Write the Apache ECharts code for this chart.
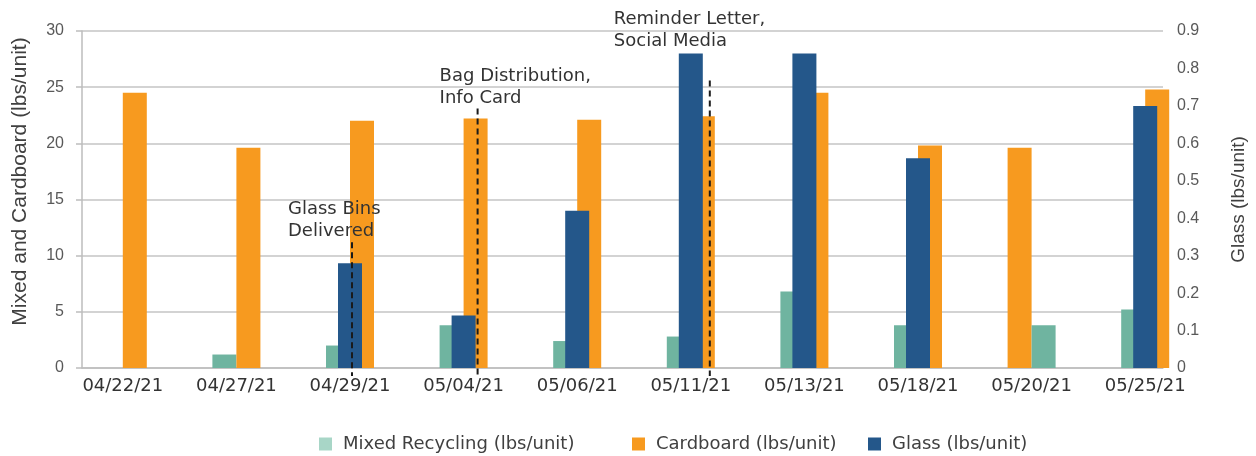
<!DOCTYPE html>
<html>
<head>
<meta charset="utf-8">
<title>Recycling per unit</title>
<script src="https://cdn.jsdelivr.net/npm/echarts@6.0.0/dist/echarts.min.js"></script>
<style>
  html, body { margin: 0; padding: 0; background: #ffffff; }
  #chart { width: 1256px; height: 456px; }
</style>
</head>
<body>
<div id="chart"></div>
<script>
// ---- data -------------------------------------------------------------
const categories = ['04/22/21', '04/27/21', '04/29/21', '05/04/21', '05/06/21',
                    '05/11/21', '05/13/21', '05/18/21', '05/20/21', '05/25/21'];
const mixedRecycling = [null, 1.2, 2.0, 3.8, 2.4, 2.8, 6.8, 3.8, 3.8, 5.2];   // lbs/unit
const cardboard      = [24.5, 19.6, 22.0, 22.2, 22.1, 22.4, 24.5, 19.8, 19.6, 24.8]; // lbs/unit
const glass          = [null, null, 0.28, 0.14, 0.42, 0.84, 0.84, 0.56, null, 0.70]; // lbs/unit
const leftTicks  = [0, 5, 10, 15, 20, 25, 30];
const rightTicks = [0, 0.1, 0.2, 0.3, 0.4, 0.5, 0.6, 0.7, 0.8, 0.9];
// dates whose two primary bars are drawn in swapped slots
const swappedDates = ['05/20/21'];
// outreach events
const eventDates = ['04/29/21', '05/04/21', '05/11/21'];
const eventTexts = ['Glass Bins\nDelivered', 'Bag Distribution,\nInfo Card', 'Reminder Letter,\nSocial Media'];
const eventTops  = [11.2, 23.1, 25.6]; // top of each marker line, left-axis units

// ---- styling ----------------------------------------------------------
const COLORS = { mixed: '#6fb4a0', mixedKey: '#a8d6c7', cardboard: '#f79a1f', glass: '#24578a' };
const NAMES = { mixed: 'Mixed Recycling (lbs/unit)', cardboard: 'Cardboard (lbs/unit)', glass: 'Glass (lbs/unit)' };
const GOTHIC = '"DejaVu Sans", sans-serif';
const ARIAL = '"Liberation Sans", Arial, sans-serif';
const eventLayout = [ // pixel nudges for the event markers and their captions
  { dx: 2,  tx: -64,  ty: -44 },
  { dx: 14, tx: -38,  ty: -43 },
  { dx: 19, tx: -96,  ty: -72 }
];

const step = (t) => t[1] - t[0];
const BAR_W = 24;

const leftSlot = categories.map((c, i) => swappedDates.includes(c)
  ? { value: cardboard[i], itemStyle: { color: COLORS.cardboard } }
  : mixedRecycling[i]);
const rightSlot = categories.map((c, i) => swappedDates.includes(c)
  ? { value: mixedRecycling[i], itemStyle: { color: COLORS.mixed } }
  : cardboard[i]);

const chart = echarts.init(document.getElementById('chart'), null, { renderer: 'canvas' });

const gridTop = 31, gridBottom = 88;

function legendFor(name, left, keyColor) {
  return {
    data: [keyColor ? { name, itemStyle: { color: keyColor } } : name],
    left, top: 430, icon: 'rect', itemWidth: 13, itemHeight: 13,
    selectedMode: false,
    textStyle: { fontFamily: GOTHIC, fontSize: 18, color: '#404040', padding: [0, 0, 0, 6] }
  };
}

chart.setOption({
  animation: false,
  backgroundColor: '#ffffff',
  grid: [
    { left: 82, right: 81, top: gridTop, bottom: gridBottom },   // axes and gridlines
    { left: 66, right: 54, top: gridTop, bottom: gridBottom }    // bars
  ],
  legend: [
    legendFor(NAMES.mixed, 314, COLORS.mixedKey),
    legendFor(NAMES.cardboard, 627),
    legendFor(NAMES.glass, 863)
  ],
  xAxis: [
    { type: 'category', gridIndex: 0, data: categories,
      axisLine: { show: true, lineStyle: { color: '#bdbdbd', width: 1.5 } },
      axisTick: { show: false }, axisLabel: { show: false } },
    { type: 'category', gridIndex: 1, data: categories,
      axisLine: { show: false }, axisTick: { show: false },
      axisLabel: { margin: 9, fontFamily: GOTHIC, fontSize: 18, color: '#333333' } },
    { type: 'category', gridIndex: 1, data: categories, show: false }
  ],
  yAxis: [
    { type: 'value', gridIndex: 0, position: 'left',
      min: leftTicks[0], max: leftTicks[leftTicks.length - 1], interval: step(leftTicks),
      axisLine: { show: true, lineStyle: { color: '#bdbdbd', width: 1.5 } },
      axisTick: { show: true, length: 6, lineStyle: { color: '#bdbdbd', width: 1.5 } },
      splitLine: { show: true, lineStyle: { color: '#c4c4c4', width: 1.5 } },
      axisLabel: { margin: 18, fontFamily: ARIAL, fontSize: 16, color: '#595959' },
      name: 'Mixed and Cardboard (lbs/unit)', nameLocation: 'middle', nameRotate: 90, nameGap: 51,
      nameMoveOverlap: false,
      nameTextStyle: { fontFamily: ARIAL, fontSize: 21, color: '#404040', padding: [0, 0, 0, 36] } },
    { type: 'value', gridIndex: 0, position: 'right',
      min: rightTicks[0], max: rightTicks[rightTicks.length - 1], interval: step(rightTicks),
      axisLine: { show: false }, axisTick: { show: false }, splitLine: { show: false },
      axisLabel: { margin: 14, fontFamily: ARIAL, fontSize: 16, color: '#595959',
                   formatter: (v) => String(Math.round(v * 10) / 10) },
      name: NAMES.glass, nameLocation: 'middle', nameRotate: 90, nameGap: 66,
      nameMoveOverlap: false,
      nameTextStyle: { fontFamily: ARIAL, fontSize: 19, color: '#404040' } },
    { type: 'value', gridIndex: 1, min: leftTicks[0], max: leftTicks[leftTicks.length - 1], show: false },
    { type: 'value', gridIndex: 1, min: rightTicks[0], max: rightTicks[rightTicks.length - 1], show: false }
  ],
  series: [
    { type: 'bar', name: NAMES.mixed, xAxisIndex: 1, yAxisIndex: 2, data: leftSlot,
      barWidth: BAR_W, barGap: '0%', itemStyle: { color: COLORS.mixed } },
    { type: 'bar', name: NAMES.cardboard, xAxisIndex: 1, yAxisIndex: 2, data: rightSlot,
      barWidth: BAR_W, barGap: '0%', itemStyle: { color: COLORS.cardboard } },
    { type: 'bar', name: NAMES.glass, xAxisIndex: 2, yAxisIndex: 3, data: glass,
      barWidth: BAR_W, z: 3, itemStyle: { color: COLORS.glass } }
  ]
});

// event markers: dashed line from the event level down through the baseline, caption above
const graphics = [];
eventDates.forEach((d, i) => {
  const lay = eventLayout[i];
  const top = chart.convertToPixel({ xAxisIndex: 1, yAxisIndex: 2 }, [d, eventTops[i]]);
  const base = chart.convertToPixel({ xAxisIndex: 1, yAxisIndex: 2 }, [d, 0]);
  const x = top[0] + lay.dx;
  graphics.push({
    type: 'line', z: 10, silent: true,
    shape: { x1: x, y1: top[1], x2: x, y2: base[1] + 8 },
    style: { stroke: '#1a1a1a', lineWidth: 2, lineDash: [6, 4] }
  });
  graphics.push({
    type: 'text', z: 10, silent: true, x: x + lay.tx, y: top[1] + lay.ty,
    style: { text: eventTexts[i], fontFamily: GOTHIC, fontSize: 18, lineHeight: 22,
             fill: '#333333', align: 'left', verticalAlign: 'top' }
  });
});
chart.setOption({ graphic: graphics });
</script>
</body>
</html>
